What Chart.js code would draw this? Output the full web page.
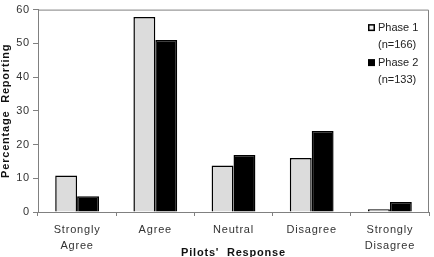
<!DOCTYPE html>
<html>
<head>
<meta charset="utf-8">
<script src="https://cdn.jsdelivr.net/npm/chart.js@4/dist/chart.umd.min.js"></script>
<style>
  body { margin: 0; background: #fff; }
  #chart { display: block; }
</style>
</head>
<body>
<canvas id="chart" width="434" height="257"></canvas>
<script>
const categories = [['Strongly', 'Agree'], 'Agree', 'Neutral', 'Disagree', ['Strongly', 'Disagree']];
const phase1 = [10.8, 57.8, 13.8, 16, 0.8];
const phase2 = [4.7, 51, 16.9, 24, 3];
const legendLines = [['Phase 1', '(n=166)'], ['Phase 2', '(n=133)']];

const FONT = 'Liberation Sans, Arial, sans-serif';

// box around the plot + the little legend in the corner
const framePlugin = {
  id: 'frame',
  afterDraw(chart) {
    const { ctx, chartArea: a } = chart;
    ctx.save();
    ctx.strokeStyle = '#808080';
    ctx.lineWidth = 1;
    ctx.beginPath();
    ctx.moveTo(a.left, a.top + 0.5);
    ctx.lineTo(a.right - 0.5, a.top + 0.5);
    ctx.lineTo(a.right - 0.5, a.bottom);
    ctx.stroke();

    ctx.letterSpacing = '0px';
    ctx.font = '11px ' + FONT;
    ctx.textBaseline = 'middle';
    const x = a.right - 61;
    let y = a.top + 18;
    legendLines.forEach((lines, i) => {
      if (i === 0) {
        ctx.fillStyle = '#eeeeee';
        ctx.fillRect(x, y - 3.5, 7, 7);
        ctx.strokeStyle = '#000';
        ctx.lineWidth = 1.5;
        ctx.strokeRect(x + 0.75, y - 2.75, 5.5, 5.5);
      } else {
        ctx.fillStyle = '#000';
        ctx.fillRect(x, y - 3.5, 7, 7);
      }
      ctx.fillStyle = '#222';
      ctx.fillText(lines[0], x + 10, y);
      ctx.fillText(lines[1], x + 10, y + 17);
      y += 35;
    });
    ctx.restore();
  }
};

new Chart(document.getElementById('chart'), {
  type: 'bar',
  data: {
    labels: categories,
    datasets: [
      { label: 'Phase 1 (n=166)', data: phase1, backgroundColor: '#dcdcdc', borderColor: '#000', borderWidth: 1.5 },
      { label: 'Phase 2 (n=133)', data: phase2, backgroundColor: '#000', borderColor: '#000', borderWidth: 1.5 }
    ]
  },
  options: {
    responsive: false,
    animation: false,
    layout: { padding: { top: 5, right: 5, left: 0, bottom: 0 } },
    plugins: { legend: { display: false }, tooltip: { enabled: false } },
    datasets: { bar: { categoryPercentage: 0.56, barPercentage: 1 } },
    scales: {
      x: {
        afterFit(s) { s.height = 45; },
        grid: { drawOnChartArea: false, color: '#808080', tickLength: 4, offset: true },
        border: { color: '#808080' },
        ticks: { color: '#333', padding: 6, maxRotation: 0, font: { family: FONT, size: 11, lineHeight: 1.45 } },
        title: { display: true, text: "Pilots'  Response", color: '#111', padding: { top: 0, bottom: -1 },
          font: { family: FONT, size: 11, weight: 'bold', lineHeight: 1 } }
      },
      y: {
        min: 0, max: 60,
        afterFit(s) { s.width = 38; },
        grid: { drawOnChartArea: false, color: '#808080', tickLength: 5 },
        border: { color: '#808080' },
        ticks: { stepSize: 10, color: '#333', padding: 3, font: { family: FONT, size: 11 } },
        title: { display: true, text: 'Percentage  Reporting', color: '#111', padding: { top: 0, bottom: 0 },
          font: { family: FONT, size: 11, weight: 'bold', lineHeight: 1 } }
      }
    }
  },
  plugins: [framePlugin, {
    id: 'spacing',
    beforeDraw(chart) { chart.ctx.letterSpacing = '0.8px'; }
  }]
});
</script>
</body>
</html>
